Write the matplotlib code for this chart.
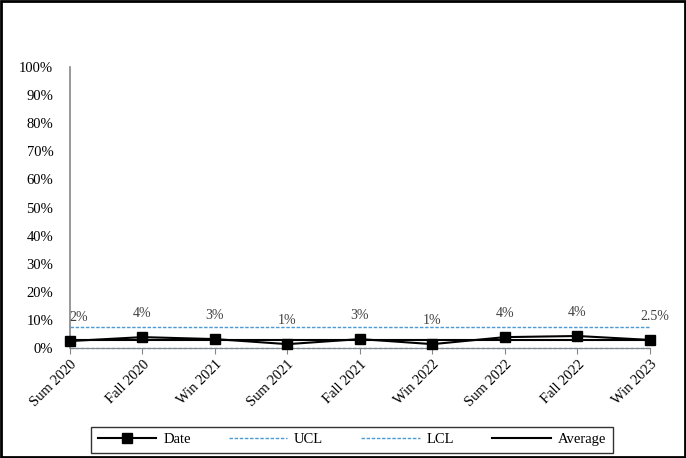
import numpy as np
import matplotlib
matplotlib.use("Agg")
import matplotlib.pyplot as plt
from matplotlib.ticker import PercentFormatter

plt.rcParams['font.family'] = ['Liberation Serif', 'DejaVu Serif']

# data
terms = ["Sum 2020", "Fall 2020", "Win 2021", "Sum 2021", "Fall 2021",
         "Win 2022", "Sum 2022", "Fall 2022", "Win 2023"]
rate = [2.5, 3.9, 3.2, 1.4, 3.2, 1.4, 3.9, 4.3, 2.9]
point_labels = ["2%", "4%", "3%", "1%", "3%", "1%", "4%", "4%", "2.5%"]
ucl = [7.5] * len(terms)
lcl = [0.0] * len(terms)
average = [2.9] * len(terms)

fig = plt.figure(figsize=(6.86, 4.58), dpi=100)
ax = fig.add_axes([0.102, 0.240, 0.8455, 0.6135])

x = np.arange(len(terms))
blue = "#4A9AD6"
ax.plot(x, ucl, ls=(0, (2.5, 1.2)), color=blue, lw=1, label="UCL", clip_on=False)
ax.plot(x, lcl, ls=(0, (2.5, 1.2)), color=blue, lw=1, label="LCL", clip_on=False)
ax.plot(x, average, color="black", lw=1.5, label="Average", clip_on=False)
ax.plot(x, rate, color="black", lw=1.5, marker="s", ms=7, label="Date",
        clip_on=False, zorder=5)

for i, (v, t) in enumerate(zip(rate, point_labels)):
    dx = 0
    if i == 0:
        dx = 9
    elif i == len(rate) - 1:
        dx = 5
    ax.annotate(t, (i, v), xytext=(dx, 17), textcoords="offset pixels",
                ha="center", va="bottom", fontsize=10, color="#404040")

ax.set_xlim(0, len(terms) - 1)
ax.set_ylim(0, 100)
ax.set_yticks(np.arange(0, 101, 10))
ax.yaxis.set_major_formatter(PercentFormatter(decimals=0))
ax.tick_params(axis="y", length=0, labelsize=10.5, pad=12)
ax.set_xticks(x)
ax.set_xticklabels(terms, rotation=45, ha="right", rotation_mode="anchor", fontsize=10.5)
ax.tick_params(axis="x", length=4, color="#868686", pad=3)

for s in ["top", "right"]:
    ax.spines[s].set_visible(False)
ax.spines["left"].set_color("#868686")
ax.spines["bottom"].set_color("#868686")
ax.spines["left"].set_linewidth(1.2)

h, l = ax.get_legend_handles_labels()
order = [3, 0, 1, 2]
leg = fig.legend([h[i] for i in order], [l[i] for i in order], ncol=4,
                 loc="center", bbox_to_anchor=(0.513, 0.040), frameon=True,
                 fancybox=False, edgecolor="black", fontsize=10.5,
                 handlelength=4.0, columnspacing=2.6, borderpad=0.45,
                 handletextpad=0.5)
leg.get_frame().set_linewidth(1.0)

# outer border
fig.patches.append(plt.Rectangle((0.002, 0.002), 0.996, 0.996, transform=fig.transFigure,
                                 fill=False, edgecolor="black", lw=2))

fig.savefig("out.png", dpi=100)
